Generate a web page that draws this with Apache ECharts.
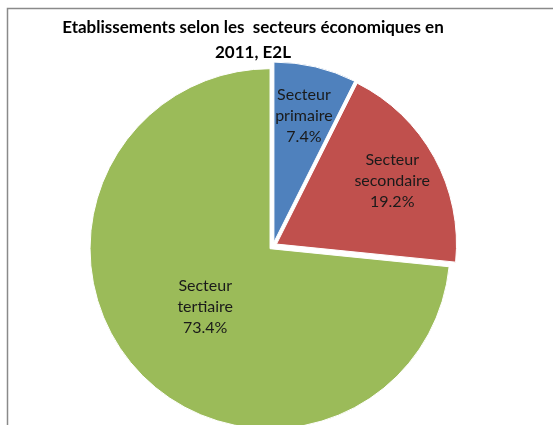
<!DOCTYPE html>
<html>
<head>
<meta charset="utf-8">
<style>
  html, body { margin: 0; padding: 0; background: #fff; }
  #main { width: 553px; height: 425px; }
</style>
<script src="https://cdn.jsdelivr.net/npm/echarts@6/dist/echarts.min.js"></script>
</head>
<body>
<div id="main"></div>
<script>
  var categories = ['Secteur\nprimaire', 'Secteur\nsecondaire', 'Secteur\ntertiaire'];
  var shares = [7.4, 19.2, 73.4];
  var colors = ['#4F81BD', '#C0504D', '#9BBB59'];

  // how far out the label sits, as a multiple of the default (mid-radius) spot
  var labelPush = [1.40, 1.42, 0.94];

  var cx = 273, cy = 246;

  var chart = echarts.init(document.getElementById('main'));
  chart.setOption({
    animation: false,
    title: {
      text: 'Etablissements selon les  secteurs économiques en\n2011, E2L',
      left: 248,
      top: 10,
      textAlign: 'center',
      textStyle: {
        fontFamily: 'Lato',
        fontSize: 17,
        fontWeight: 'bold',
        color: '#000',
        lineHeight: 25
      }
    },
    graphic: [{
      type: 'polyline',
      silent: true,
      shape: { points: [[7.5, 425], [7.5, 8.5], [553, 8.5]] },
      style: { fill: null, stroke: '#8a8a8a', lineWidth: 1.5 }
    }],
    series: [{
      type: 'pie',
      center: [cx, cy],
      radius: 180,
      startAngle: 90,
      clockwise: true,
      selectedMode: 'multiple',
      selectedOffset: 4,
      emphasis: { disabled: true },
      itemStyle: { borderColor: '#fff', borderWidth: 1 },
      label: {
        show: true,
        position: 'inside',
        fontFamily: 'Lato',
        fontSize: 16,
        lineHeight: 21,
        color: '#1a1a1a',
        formatter: function (p) {
          return p.name + '\n' + p.value.toFixed(1) + '%';
        }
      },
      labelLine: { show: false },
      labelLayout: function (params) {
        var r = params.labelRect;
        var lx = r.x + r.width / 2, ly = r.y + r.height / 2;
        var k = labelPush[params.dataIndex] - 1;
        return { dx: (lx - cx) * k, dy: (ly - cy) * k };
      },
      data: categories.map(function (c, i) {
        return { name: c, value: shares[i], selected: true, itemStyle: { color: colors[i] } };
      })
    }]
  });
</script>
</body>
</html>
